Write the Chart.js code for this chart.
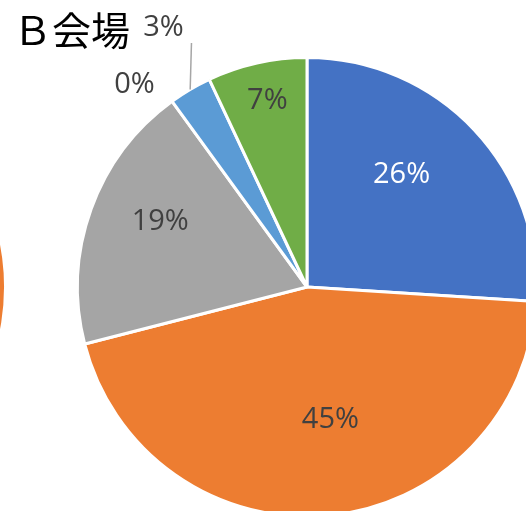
<!DOCTYPE html>
<html><head><meta charset="utf-8">
<script src="https://cdn.jsdelivr.net/npm/chart.js@4.4.0/dist/chart.umd.min.js"></script>
<style>
html,body{margin:0;padding:0;width:526px;height:511px;overflow:hidden;background:#fff;position:relative}
#title{position:absolute;left:13px;top:9px;font-family:"Noto Sans CJK JP","Noto Sans",sans-serif;font-size:39px;color:#000;line-height:1;white-space:nowrap}
#wrapB{position:absolute;left:0;top:0;width:600px;height:600px}
#wrapA{position:absolute;left:-455px;top:56px;width:462px;height:462px}
</style></head>
<body>
<div id="wrapA"><canvas id="pieA"></canvas></div>
<div id="wrapB"><canvas id="pieB"></canvas></div>
<div id="title">Ｂ会場</div>
<script>
// ---- data ----
const categories = ["区分1","区分2","区分3","区分4","区分5","区分6"];
const valuesB = [26, 45, 19, 0, 3, 7];
const labelsB = ["26%","45%","19%","0%","3%","7%"];
const valuesA = [15, 55, 20, 0, 3, 7]; // neighbouring chart, only an edge is visible
const colors = ["#4472C4","#ED7D31","#A5A5A5","#FFC000","#5B9BD5","#70AD47"];
// label placement: [angle offset from slice middle (deg), radius fraction, colour, leader line]
const labelPlace = [[-6.7,0.64,"#FFFFFF",false],[-4.6,0.588,"#404040",false],[4.2,0.70,"#404040",false],[-4.4,1.16,"#404040",false],[1.6,1.29,"#404040",true],[0.6,0.83,"#404040",false]];

const labelPlugin = {
  id:'pctLabels',
  afterDatasetsDraw(chart){
    if(!chart.options.plugins.pctLabels || !chart.options.plugins.pctLabels.show) return;
    const ctx = chart.ctx;
    const meta = chart.getDatasetMeta(0);
    ctx.save();
    ctx.font = '29px "Open Sans", sans-serif';
    ctx.textAlign='center'; ctx.textBaseline='middle';
    meta.data.forEach((arc,i)=>{
      const p = arc.getProps(['x','y','startAngle','endAngle','outerRadius'],true);
      const mid=(p.startAngle+p.endAngle)/2;
      const pl=labelPlace[i];
      const a=mid+pl[0]*Math.PI/180;
      const r=pl[1]*p.outerRadius;
      const lx=p.x+r*Math.cos(a), ly=p.y+r*Math.sin(a);
      if(pl[3]){
        const ex=p.x+p.outerRadius*Math.cos(mid), ey=p.y+p.outerRadius*Math.sin(mid);
        ctx.strokeStyle='#A6A6A6'; ctx.lineWidth=1.5;
        ctx.beginPath(); ctx.moveTo(ex,ey); ctx.lineTo(lx+28,ly+15); ctx.stroke();
      }
      ctx.fillStyle=pl[2];
      ctx.fillText(labelsB[i],lx,ly);
    });
    ctx.restore();
  }
};

function makePie(id, vals, padding, show){
  return new Chart(document.getElementById(id),{
    type:'pie',
    data:{labels:categories,datasets:[{data:vals,backgroundColor:colors,borderColor:'#FFFFFF',borderWidth:3}]},
    options:{responsive:true,maintainAspectRatio:false,animation:false,
      layout:{padding:padding},
      plugins:{legend:{display:false},tooltip:{enabled:false},title:{display:false},pctLabels:{show:show}}},
    plugins:[labelPlugin]
  });
}
makePie('pieB', valuesB, {left:76,top:56,right:62,bottom:82}, true);
makePie('pieA', valuesA, 0, false);
</script>
</body></html>
